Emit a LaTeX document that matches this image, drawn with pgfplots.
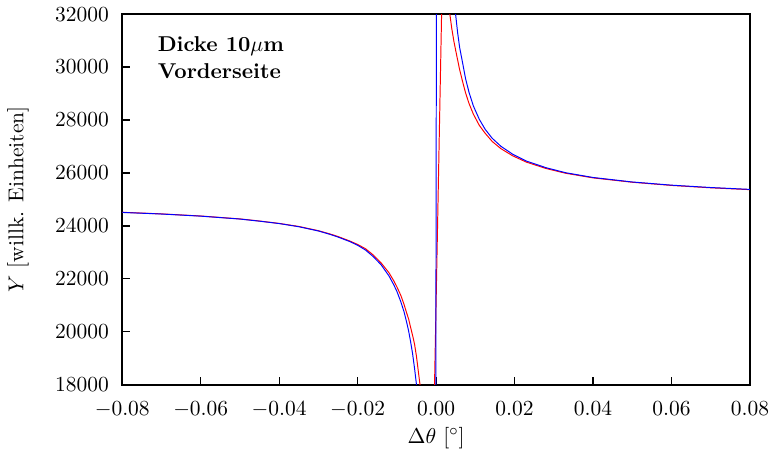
\documentclass[11pt,border=0pt]{standalone}
\usepackage{pgfplots}
\pgfplotsset{compat=1.18}
\begin{document}
\begin{tikzpicture}
\begin{axis}[
  scale only axis,
  width=320pt, height=189pt,
  xmin=-0.08, xmax=0.08, ymin=18000, ymax=32000,
  xtick={-0.08,-0.06,-0.04,-0.02,0,0.02,0.04,0.06,0.08},
  ytick={18000,20000,22000,24000,26000,28000,30000,32000},
  xticklabel style={/pgf/number format/fixed,/pgf/number format/fixed zerofill,/pgf/number format/precision=2, inner xsep=1pt, yshift=-2pt},
  xticklabel shift=2.5pt,
  yticklabel style={/pgf/number format/1000 sep={}, xshift=-3pt},
  scaled x ticks=false, scaled y ticks=false,
  tick align=inside, xtick pos=bottom, ytick pos=left,
  major tick length=4pt,
  axis line style={line width=0.8pt},
  tick style={line width=0.6pt, black},
  xlabel={$\Delta\theta$ [$^\circ$]},
  ylabel={$Y$ [willk. Einheiten]},
  ylabel shift=6pt,
  xlabel shift=0.5pt,
  xlabel style={inner ysep=1pt},
  clip=true,
]
\addplot[red, line width=0.5pt] coordinates {
(-0.08,24515) (-0.07,24455) (-0.06,24375) (-0.05,24265) (-0.045,24185) (-0.04,24095)
(-0.035,23980) (-0.03,23820) (-0.027,23695) (-0.025,23600) (-0.022,23430) (-0.02,23300)
(-0.018,23140) (-0.016,22900) (-0.014,22600) (-0.012,22230) (-0.0108,21930) (-0.01,21700)
(-0.009,21380) (-0.0082,21050) (-0.0075,20710) (-0.007,20485) (-0.0065,20170) (-0.006,19870)
(-0.0055,19540) (-0.005,19070) (-0.0045,18470) (-0.0041,18000) (-0.0035,16000) (-0.0025,14000)
(-0.0012,14500) (-0.0004,18000) (0.0005,25000) (0.0014,32000) (0.002,32900) (0.0025,33100)
(0.003,32600) (0.0035,32000) (0.004,31450) (0.0045,31000) (0.005,30620) (0.0055,30260)
(0.006,29900) (0.0067,29480) (0.0075,29030) (0.0084,28620) (0.0095,28220) (0.011,27800)
(0.0125,27500) (0.0143,27190) (0.0165,26920) (0.0195,26650) (0.023,26410) (0.028,26170)
(0.033,25990) (0.04,25815) (0.05,25650) (0.06,25530) (0.07,25440) (0.08,25370)
};
\addplot[blue, line width=0.5pt] coordinates {
(-0.08,24510) (-0.07,24450) (-0.06,24370) (-0.05,24260) (-0.045,24180) (-0.04,24090)
(-0.035,23970) (-0.03,23810) (-0.027,23680) (-0.025,23580) (-0.022,23410) (-0.02,23270)
(-0.018,23090) (-0.016,22840) (-0.014,22530) (-0.012,22110) (-0.0108,21780) (-0.01,21530)
(-0.009,21140) (-0.0082,20770) (-0.0075,20360) (-0.007,20030) (-0.0065,19630) (-0.006,19180)
(-0.0055,18630) (-0.005,18000) (-0.0045,17200) (-0.003,16000) (-0.0001,16000)
(0.0001,34000) (0.003,34000) (0.004,33700) (0.0045,32750) (0.005,31950) (0.0055,31280)
(0.006,30740) (0.0067,30200) (0.0075,29570) (0.0084,29040) (0.0095,28530) (0.011,28030)
(0.0125,27650) (0.0143,27310) (0.0165,27010) (0.0195,26710) (0.023,26450) (0.028,26200)
(0.033,26010) (0.04,25830) (0.05,25660) (0.06,25540) (0.07,25450) (0.08,25380)
};
\node[anchor=north west, align=left, inner sep=0pt, font=\bfseries] at (rel axis cs:0.056,0.94)
  {Dicke 10$\mu$m\\Vorderseite};
\end{axis}
\end{tikzpicture}
\end{document}
